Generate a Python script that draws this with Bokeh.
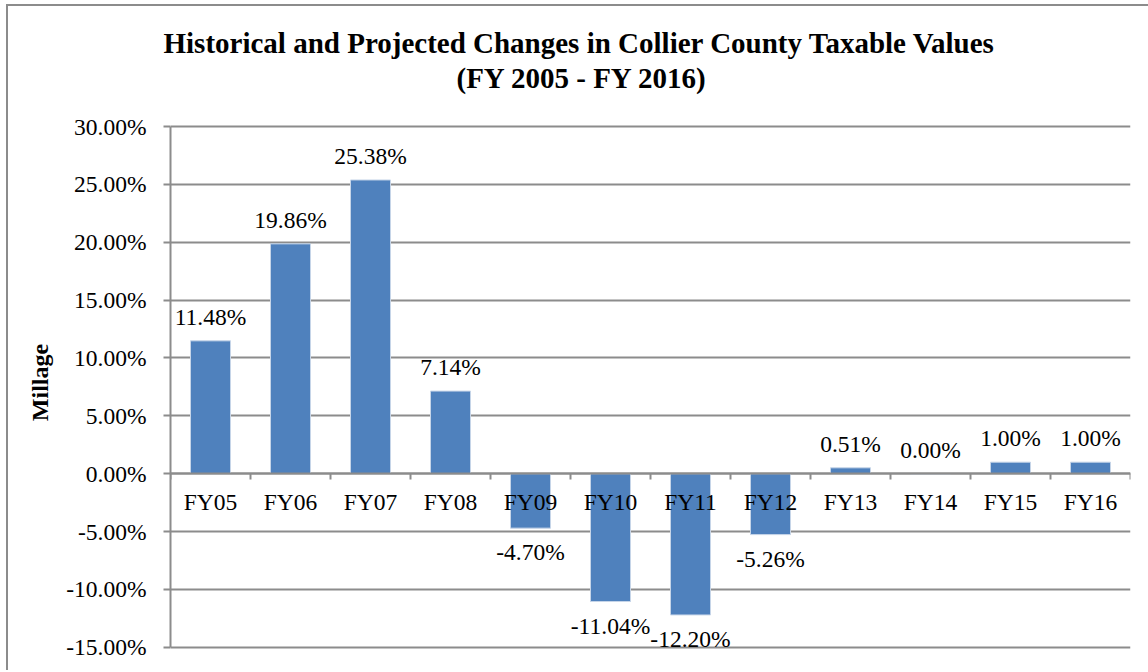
from bokeh.plotting import figure
from bokeh.models import (Range1d, FixedTicker, LinearAxis, PrintfTickFormatter,
                          Title, ColumnDataSource)
from bokeh.embed import file_html
from bokeh.resources import INLINE
from bokeh.core.properties import value

# ---- data ----
categories = ["FY05", "FY06", "FY07", "FY08", "FY09", "FY10",
              "FY11", "FY12", "FY13", "FY14", "FY15", "FY16"]
changes = [11.48, 19.86, 25.38, 7.14, -4.70, -11.04,
           -12.20, -5.26, 0.51, 0.00, 1.00, 1.00]
y_ticks = [-15, -10, -5, 0, 5, 10, 15, 20, 25, 30]
title_lines = ["Historical and Projected Changes in Collier County Taxable Values",
               "(FY 2005 - FY 2016)"]
y_label = "Millage"

FONT = "Liberation Serif"
GRID = "#8c8c8c"
BAR = "#4F81BD"
FS = "23.5px"

n = len(categories)
centers = [i + 0.5 for i in range(n)]
labels = ["%.2f%%" % v for v in changes]

src = ColumnDataSource(dict(x=centers, top=changes, cat=categories, lab=labels))
pos = ColumnDataSource(dict(x=[c for c, v in zip(centers, changes) if v >= 0],
                            y=[v for v in changes if v >= 0],
                            lab=[l for l, v in zip(labels, changes) if v >= 0]))
neg = ColumnDataSource(dict(x=[c for c, v in zip(centers, changes) if v < 0],
                            y=[v for v in changes if v < 0],
                            lab=[l for l, v in zip(labels, changes) if v < 0]))

# plot scale: 47 percentage points over 544 px; extra head-room above the top tick
px_per_unit = 544 / 47.0
head_px = 32
p = figure(frame_width=960, frame_height=544 + head_px,
           x_range=Range1d(0, n),
           y_range=Range1d(-17, max(y_ticks) + head_px / px_per_unit),
           output_backend="svg", toolbar_location=None,
           x_axis_location=None,
           min_border_left=162, min_border_top=88, min_border_right=18,
           min_border_bottom=0)
p.styles = {"margin-left": "6px", "margin-top": "4px",
            "border-left": "2px solid #8c8c8c", "border-top": "2px solid #8c8c8c"}
p.outline_line_color = None
p.background_fill_color = "white"
p.border_fill_color = "white"

# y axis
ya = p.yaxis[0]
ya.ticker = FixedTicker(ticks=y_ticks)
ya.bounds = (min(y_ticks), max(y_ticks))
ya.formatter = PrintfTickFormatter(format="%.2f%%")
ya.major_tick_in = 0
ya.major_tick_out = 7
ya.minor_tick_line_color = None
ya.axis_line_color = GRID
ya.axis_line_width = 2
ya.major_tick_line_color = GRID
ya.major_tick_line_width = 2
ya.major_label_text_font = FONT
ya.major_label_text_font_size = FS
ya.major_label_text_color = "black"
ya.major_label_standoff = 17
ya.axis_label = y_label
ya.axis_label_text_font = FONT
ya.axis_label_text_font_style = "bold"
ya.axis_label_text_font_size = "24px"
ya.axis_label_text_color = "black"
ya.axis_label_standoff = 10

p.xgrid.visible = False
p.ygrid.ticker = FixedTicker(ticks=y_ticks)
p.ygrid.grid_line_color = GRID
p.ygrid.grid_line_width = 2

# bars
p.vbar(x="x", top="top", bottom=0, width=0.5, source=src,
       fill_color=BAR, line_color="#c6d5e8", line_width=1)

# category axis at zero: tick marks at category boundaries
bounds_ticks = list(range(n + 1))
tick_axis = LinearAxis(fixed_location=0, ticker=FixedTicker(ticks=bounds_ticks),
                       major_label_overrides={t: "" for t in bounds_ticks},
                       major_tick_in=0, major_tick_out=6,
                       minor_tick_line_color=None, axis_line_color=GRID, axis_line_width=2,
                       major_tick_line_color=GRID, major_tick_line_width=2)
p.add_layout(tick_axis, "below")

label_axis = LinearAxis(fixed_location=0, ticker=FixedTicker(ticks=centers),
                        major_label_overrides={c: cat for c, cat in zip(centers, categories)},
                        major_tick_line_color=None, minor_tick_line_color=None,
                        axis_line_color=None, major_label_standoff=9,
                        major_label_text_font=FONT, major_label_text_font_size=FS,
                        major_label_text_color="black")
p.add_layout(label_axis, "below")

# data labels
p.text(x="x", y="y", text="lab", source=pos, text_align="center", text_baseline="bottom",
       y_offset=-11, text_font=value(FONT), text_font_size=FS, text_color="black")
p.text(x="x", y="y", text="lab", source=neg, text_align="center", text_baseline="top",
       y_offset=11, text_font=value(FONT), text_font_size=FS, text_color="black")

# title (two lines; the later one added sits further from the plot)
p.add_layout(Title(text=title_lines[1], align="left", offset=286, standoff=2,
                   text_font=FONT, text_font_style="bold", text_font_size="29px",
                   text_color="black"), "above")
p.add_layout(Title(text=title_lines[0], align="left", offset=-7, standoff=0,
                   text_font=FONT, text_font_style="bold", text_font_size="29px",
                   text_color="black"), "above")

open("out.html", "w").write(file_html(p, INLINE))
